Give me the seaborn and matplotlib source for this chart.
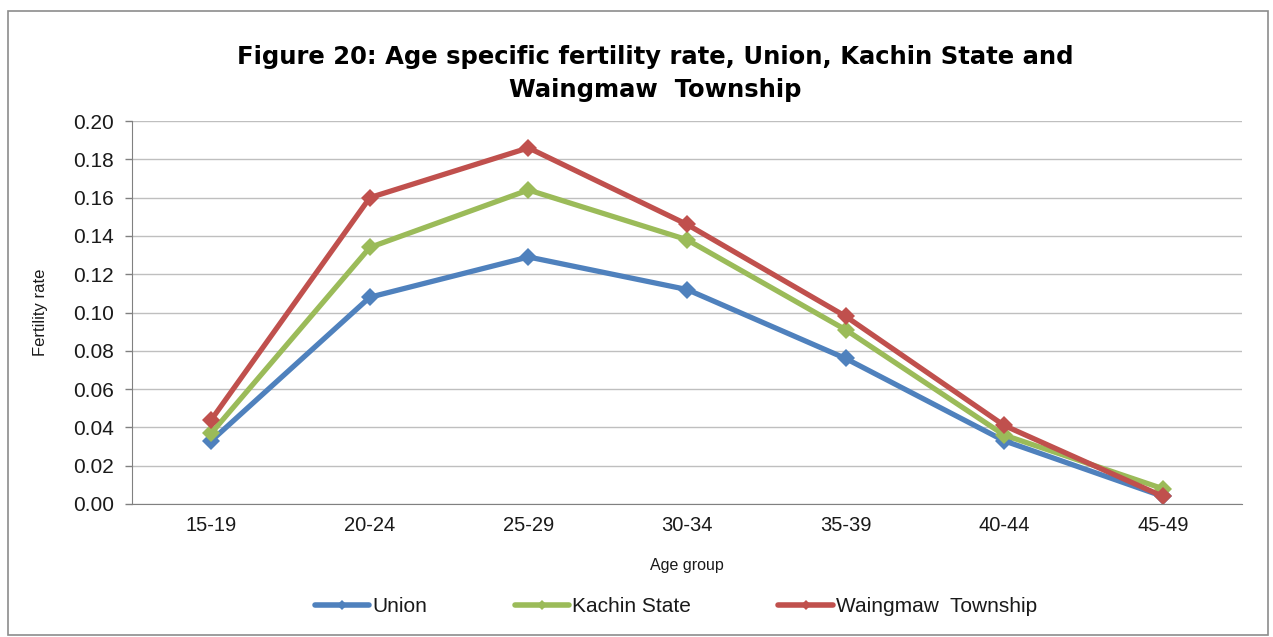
import numpy as np
import pandas as pd
import matplotlib.pyplot as plt
import seaborn as sns
from matplotlib.patches import Rectangle

age_groups = ["15-19", "20-24", "25-29", "30-34", "35-39", "40-44", "45-49"]
union = [0.033, 0.108, 0.129, 0.112, 0.076, 0.033, 0.004]
kachin = [0.037, 0.134, 0.164, 0.138, 0.091, 0.036, 0.008]
waingmaw = [0.044, 0.160, 0.186, 0.146, 0.098, 0.041, 0.004]
series_names = ["Union", "Kachin State", "Waingmaw  Township"]
colors = ["#4F81BD", "#9BBB59", "#C0504D"]

df = pd.DataFrame({
    "age": age_groups * 3,
    "rate": union + kachin + waingmaw,
    "series": np.repeat(series_names, len(age_groups)),
})
df["pos"] = np.tile(np.arange(len(age_groups)), 3)

sns.set_style("white")
plt.rcParams["font.family"] = ["Liberation Sans", "DejaVu Sans"]
plt.rcParams["text.color"] = "#1a1a1a"
plt.rcParams["xtick.color"] = "#1a1a1a"
plt.rcParams["ytick.color"] = "#1a1a1a"
plt.rcParams["axes.labelcolor"] = "#1a1a1a"

fig = plt.figure(figsize=(12.73, 6.37), dpi=100)
ax = fig.add_axes([0.1037, 0.2088, 0.872, 0.6012])

fig.patches.append(Rectangle((0.0063, 0.003), 0.99, 0.98, transform=fig.transFigure,
                             fill=False, edgecolor="#8c8c8c", linewidth=1.2))

sns.lineplot(data=df, x="pos", y="rate", hue="series", palette=colors,
             marker="D", markersize=9.5, markeredgewidth=0, linewidth=3.8,
             ax=ax, legend=False)

ax.set_xlim(-0.5, len(age_groups) - 0.5)
ax.set_ylim(0, 0.2)
yt = np.arange(0, 0.201, 0.02)
ax.set_yticks(yt)
ax.set_yticklabels([f"{v:.2f}" for v in yt], fontsize=15)
ax.set_xticks(range(len(age_groups)))
ax.set_xticklabels(age_groups, fontsize=14.5)
ax.set_xticks(np.arange(-0.5, len(age_groups)), minor=True)
ax.tick_params(axis="x", which="major", length=0, pad=9)
ax.tick_params(axis="x", which="minor", length=6, color="#808080", width=1)
ax.tick_params(axis="y", length=5, color="#808080", width=1, left=True, pad=8)
ax.yaxis.grid(True, color="#bfbfbf", linewidth=1)
for s in ["top", "right"]:
    ax.spines[s].set_visible(False)
ax.spines["left"].set_color("#808080")
ax.spines["bottom"].set_color("#808080")

ax.set_xlabel("Age group", fontsize=11.5, labelpad=16)
ax.set_ylabel("Fertility rate", fontsize=12, labelpad=18)

fig.text(0.515, 0.885, "Figure 20: Age specific fertility rate, Union, Kachin State and\nWaingmaw  Township",
         ha="center", va="center", fontsize=17.5, fontweight="bold", linespacing=1.45,
         family=["DejaVu Sans"], color="black")

handles = [plt.Line2D([], [], color=c, linewidth=4, marker="D", markersize=5, markeredgewidth=0)
           for c in colors]
fig.legend(handles, series_names, loc="center", bbox_to_anchor=(0.531, 0.048), ncol=3,
           frameon=False, fontsize=15, handlelength=2.6, columnspacing=4.2, handletextpad=0.15)

fig.savefig("out.png", dpi=100)
